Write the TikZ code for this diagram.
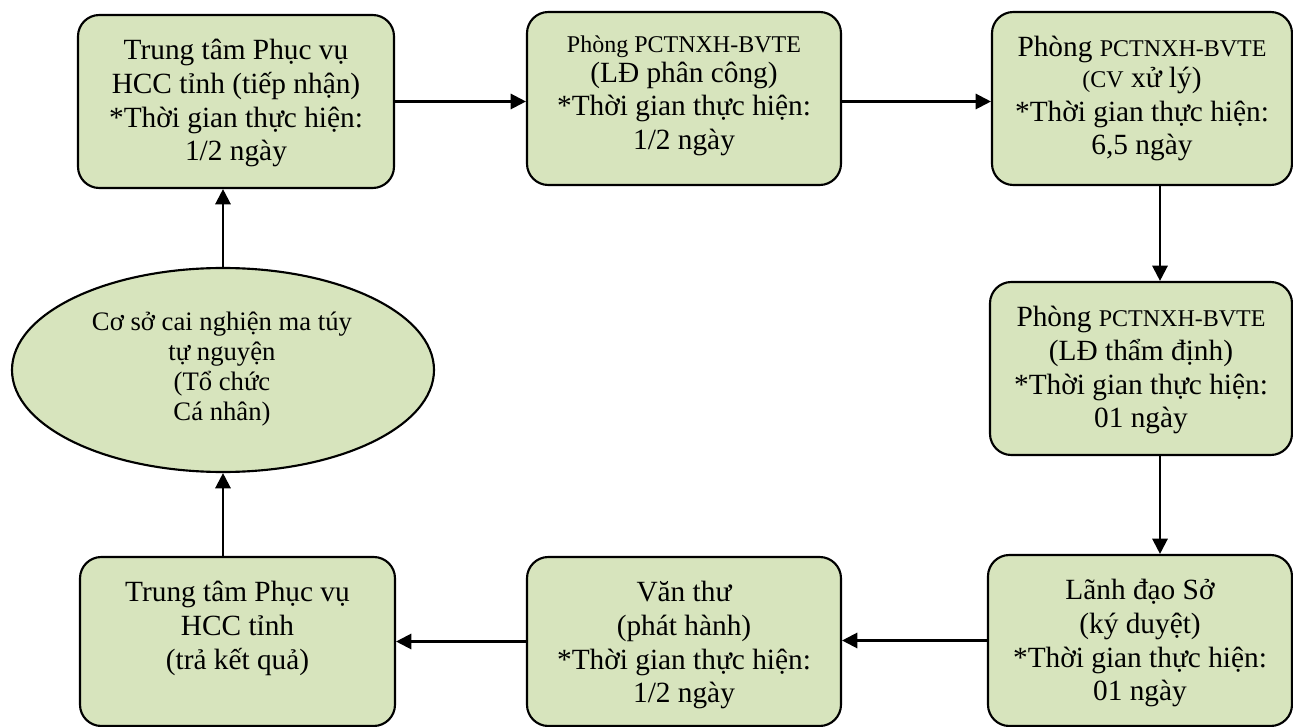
\documentclass[tikz,border=0pt]{standalone}
\usepackage{fontspec}
\setmainfont{Liberation Serif}
\usetikzlibrary{arrows.meta,shapes.geometric}
\definecolor{boxfill}{HTML}{D7E4BD}
\newcommand{\bigtxt}{\fontsize{22}{25.2}\selectfont}
\newcommand{\smtxt}{\fontsize{18}{20.7}\selectfont}
\newcommand{\flowtext}[3]{\begin{minipage}[c][\dimexpr#2pt*3/4\relax][t]{\dimexpr#1pt*3/4\relax}\centering\bigtxt\vspace*{16pt}#3\end{minipage}}
\tikzset{
  flowbox/.style={draw=black, line width=1.6pt, fill=boxfill, rounded corners=16pt, inner sep=0pt},
  ellbox/.style={draw=black, line width=1.6pt, fill=boxfill, ellipse, inner sep=0pt,
                 minimum width=316.5pt, minimum height=153pt},
  elltxt/.style={align=center, font=\fontsize{20}{22.5}\selectfont, inner sep=0pt},
  arr/.style={line width=1.7pt, -{Triangle[length=11.5pt,width=11.5pt]}},
}
\begin{document}
\begin{tikzpicture}[x=0.75pt,y=-0.75pt]
\useasboundingbox (0,0) rectangle (1293,727);

\node[flowbox] (b1) at (236,101.5) {\flowtext{316}{173}{\strut Trung tâm Phục vụ\\HCC tỉnh (tiếp nhận)\\{*}Thời gian thực hiện:\\1/2 ngày}};
\node[flowbox] (b2) at (684,98.5) {\flowtext{314}{173}{{\smtxt\strut Phòng PCTNXH-BVTE}\\[-3pt](LĐ phân công)\\{*}Thời gian thực hiện:\\1/2 ngày}};
\node[flowbox] (b3) at (1142,98.5) {\flowtext{300}{173}{\strut Phòng {\smtxt PCTNXH-BVTE}\\[-2pt]{\smtxt (CV} xử lý)\\{*}Thời gian thực hiện:\\6,5 ngày}};
\node[flowbox] (b4) at (1141,368.5) {\flowtext{302}{173}{\strut Phòng {\smtxt PCTNXH-BVTE}\\(LĐ thẩm định)\\{*}Thời gian thực hiện:\\01 ngày}};
\node[flowbox] (b5) at (1140,640.5) {\flowtext{304}{171}{\strut Lãnh đạo Sở\\(ký duyệt)\\{*}Thời gian thực hiện:\\01 ngày}};
\node[flowbox] (b6) at (684,641.5) {\flowtext{314}{169}{\strut Văn thư\\(phát hành)\\{*}Thời gian thực hiện:\\1/2 ngày}};
\node[flowbox] (b7) at (237.5,641.5) {\flowtext{315}{169}{\strut Trung tâm Phục vụ\\HCC tỉnh\\(trả kết quả)}};

\node[ellbox] (ell) at (223,370) {};
\node[elltxt] (elltext) at (222,369) {Cơ sở cai nghiện ma túy\\tự nguyện\\(Tổ chức\\Cá nhân)};

\coordinate (vx) at (1160,0);
\draw[arr] (b1.east) -- (b1.east -| b2.west);
\draw[arr] (b2.east |- b1.east) -- (b3.west |- b1.east);
\draw[arr] (vx |- b3.south) -- (vx |- b4.north);
\draw[arr] (vx |- b4.south) -- (vx |- b5.north);
\draw[arr] (b5.west) -- (b5.west -| b6.east);
\draw[arr] (b6.west) -- (b6.west -| b7.east);
\draw[arr] (b7.north -| ell.south) -- (ell.south);
\draw[arr] (ell.north) -- (ell.north |- b1.south);
\end{tikzpicture}
\end{document}
